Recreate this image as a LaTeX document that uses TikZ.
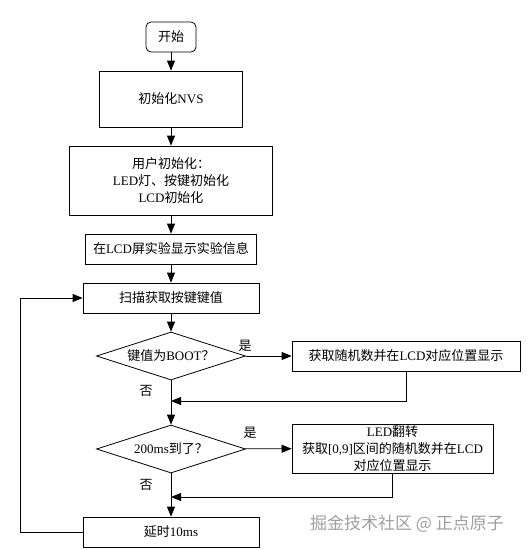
\documentclass[tikz,border=0pt]{standalone}
\usepackage{fontspec}
\setmainfont{Liberation Serif}
\newfontfamily\cjk{Noto Sans CJK SC}
\usetikzlibrary{shapes.geometric, arrows.meta}

\tikzset{
  every node/.style = {font=\fontsize{13}{17}\selectfont},
  startbox/.style = {draw, rounded corners=5pt, minimum width=50pt, minimum height=30pt, inner sep=0pt},
  procbox/.style = {draw, minimum height=30pt, inner sep=0pt, align=center},
  decbox/.style = {draw, diamond, shape aspect=3, minimum width=149pt, minimum height=48pt, inner sep=0pt},
  arr/.style = {-{Triangle[length=10pt,width=8pt]}},
}

\begin{document}
\begin{tikzpicture} [x=1pt, y=-1pt, line width=0.8pt]
        \useasboundingbox (0,0) rectangle (532,550);

        % main column
        \node (start) [startbox] at (171,37) {{\cjk 开始}};
        \node (nvs) [procbox, minimum width=143pt, minimum height=56pt] at (171,99) {{\cjk 初始化}NVS};
        \node (init) [procbox, minimum width=203pt, minimum height=69pt] at (171,180.5)
        {{\cjk 用户初始化：}\\LED{\cjk 灯、按键初始化}\\LCD{\cjk 初始化}};
        \node (msg) [procbox, minimum width=171pt] at (171,249) {{\cjk 在}LCD{\cjk 屏实验显示实验信息}};
        \node (scan) [procbox, minimum width=176pt] at (171,298) {{\cjk 扫描获取按键键值}};
        \node (boot) [decbox] at (171,356) {{\cjk 键值为}BOOT{\cjk ？}};
        \node (tick) [decbox] at (171,449) {200ms{\cjk 到了？}};
        \node (delay) [procbox, minimum width=176pt] at (171,532) {{\cjk 延时}10ms};

        % branches
        \node (rand) [procbox, minimum width=228pt] at (406,356) {{\cjk 获取随机数并在}LCD{\cjk 对应位置显示}};
        \node (led) [procbox, minimum width=201pt, minimum height=49pt] at (392.5,448.5)
        {LED{\cjk 翻转}\\{\cjk 获取}[0,9]{\cjk 区间的随机数并在}LCD\\{\cjk 对应位置显示}};

        % labels
        \node (yes1) at (245,346) {\cjk 是};
        \node (no1) at (146,391) {\cjk 否};
        \node (yes2) at (250,433) {\cjk 是};
        \node (no2) at (146,485) {\cjk 否};

        \coordinate (join1) at (171,401);
        \coordinate (join2) at (171,497);
        \coordinate (loop) at (20,532);

        \draw [arr] (start) -- (nvs);
        \draw [arr] (nvs) -- (init);
        \draw [arr] (init) -- (msg);
        \draw [arr] (msg) -- (scan);
        \draw [arr] (scan) -- (boot);
        \draw [arr] (boot) -- (rand);
        \draw [arr] (rand.south) |- (join1);
        \draw [arr] (boot) -- (tick);
        \draw [arr] (tick) -- (led);
        \draw [arr] (led.south) |- (join2);
        \draw [arr] (tick) -- (delay);
        \draw [arr] (delay.west) -- (loop) |- (scan.west);

        \node (mark) [text=gray!75, font=\cjk\fontsize{17}{20}\selectfont] at (407,524) {掘金技术社区 @ 正点原子};
    \end{tikzpicture}
\end{document}
